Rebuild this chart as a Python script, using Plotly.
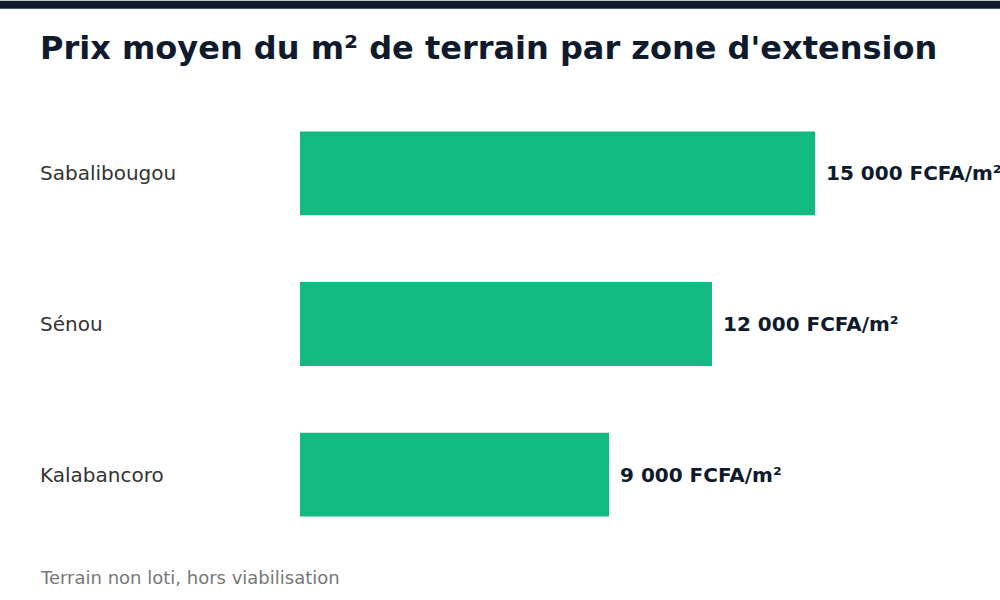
import plotly.graph_objects as go

zones = ["Sabalibougou", "Sénou", "Kalabancoro"]
prices = [15000, 12000, 9000]
value_labels = ["15 000 FCFA/m²", "12 000 FCFA/m²", "9 000 FCFA/m²"]

W, H = 1000, 600
ML, MR, MT, MB = 300, 0, 97.5, 49.5
PW = W - ML - MR
PH = H - MT - MB

def px_x(p):
    return (p - ML) / PW

def px_y(p):
    return 1 - (p - MT) / PH

green = "#12b981"
dark = "#0f1b2d"

fig = go.Figure()
fig.add_trace(go.Bar(
    x=prices, y=zones, orientation="h",
    marker=dict(color=green, line=dict(width=0)),
    width=0.556, hoverinfo="skip",
))

ann = []
for z, v, lab in zip(zones, prices, value_labels):
    ann.append(dict(x=v, y=z, xref="x", yref="y", text="<b>" + lab + "</b>",
                    showarrow=False, xanchor="left", yanchor="middle", xshift=9,
                    font=dict(family="DejaVu Sans", size=20, color=dark)))
    ann.append(dict(x=px_x(38), y=z, xref="paper", yref="y", text=z,
                    showarrow=False, xanchor="left", yanchor="middle",
                    font=dict(family="DejaVu Sans", size=20, color="#333333")))

ann.append(dict(x=px_x(38), y=px_y(47), xref="paper", yref="paper",
                text="<b>Prix moyen du m² de terrain par zone d'extension</b>",
                showarrow=False, xanchor="left", yanchor="middle",
                font=dict(family="DejaVu Sans", size=32, color=dark)))
ann.append(dict(x=px_x(38), y=px_y(578), xref="paper", yref="paper",
                text="Terrain non loti, hors viabilisation",
                showarrow=False, xanchor="left", yanchor="middle",
                font=dict(family="DejaVu Sans", size=18, color="#777777")))

fig.update_layout(
    width=W, height=H,
    margin=dict(l=ML, r=MR, t=MT, b=MB, pad=0),
    paper_bgcolor="white", plot_bgcolor="white",
    showlegend=False,
    annotations=ann,
    shapes=[dict(type="rect", xref="paper", yref="paper",
                 x0=px_x(0), x1=px_x(W), y0=px_y(8), y1=px_y(0),
                 fillcolor=dark, line=dict(width=0), layer="above")],
    xaxis=dict(range=[0, 15000 * PW / 515], visible=False, fixedrange=True),
    yaxis=dict(autorange=False, range=[2.5, -0.5], showticklabels=False,
               showgrid=False, zeroline=False, showline=False, ticks="",
               fixedrange=True),
)

fig.write_html("out.html", config={"displayModeBar": False})
